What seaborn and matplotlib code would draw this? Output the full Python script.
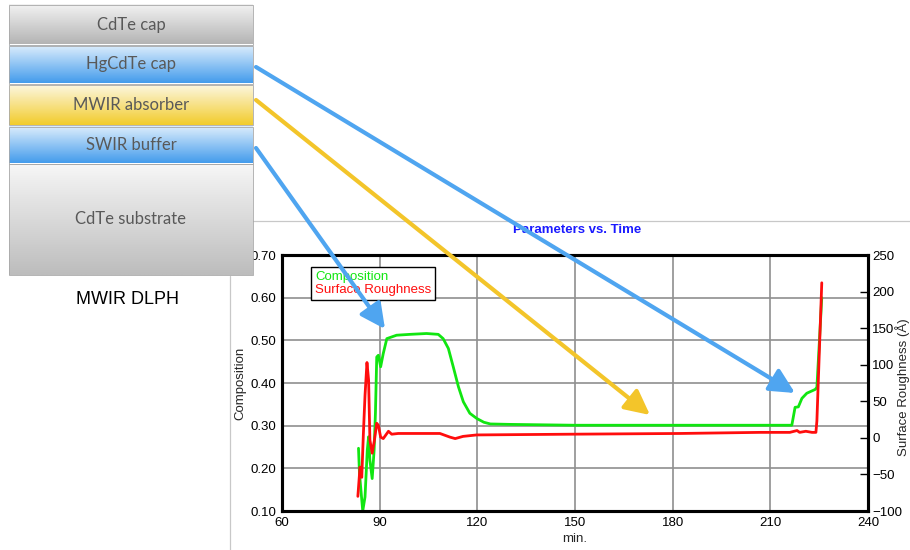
import matplotlib
matplotlib.use("Agg")
import numpy as np
import pandas as pd
import seaborn as sns
import matplotlib.pyplot as plt
from matplotlib.patches import FancyArrowPatch, Rectangle
from matplotlib.colors import LinearSegmentedColormap

# ---------------------------------------------------------------- data
comp_time = [83.5, 83.8, 84.8, 85.5, 86.2, 86.6, 87.0, 87.7, 88.3, 88.7, 89.1,
             89.6, 90.3, 91.1, 92.2, 93.7, 95.2, 99.3, 104.4, 108.0, 109.5,
             111.1, 112.6, 114.2, 115.7, 117.7, 119.8, 122.0, 124.0, 130.0,
             150.0, 180.0, 200.0, 216.6, 217.6, 218.6, 219.7, 221.2, 223.8,
             224.3, 225.8]
composition = [0.247, 0.188, 0.100, 0.133, 0.243, 0.274, 0.219, 0.176, 0.243,
               0.330, 0.461, 0.465, 0.438, 0.469, 0.504, 0.508, 0.512, 0.514,
               0.516, 0.514, 0.504, 0.481, 0.438, 0.391, 0.356, 0.329, 0.317,
               0.308, 0.304, 0.303, 0.301, 0.301, 0.301, 0.301, 0.343, 0.344,
               0.364, 0.376, 0.385, 0.390, 0.600]

rough_time = [83.3, 83.96, 84.5, 85.0, 85.5, 86.1, 86.6, 87.0, 87.7, 88.4,
              89.1, 89.6, 90.3, 91.1, 92.7, 93.7, 95.7, 102.4, 108.5, 111.6,
              113.2, 115.6, 119.8, 148.5, 182.3, 206.8, 216.0, 218.2, 219.0,
              220.9, 222.8, 224.0, 224.3, 225.8]
roughness = [-80, -40, -54, 6, 58, 103, 79, -3, -21, -3, 20, 17, 1, -1, 9, 5,
             6, 6, 6, 1, -1, 2, 4, 5, 6, 7.5, 7.5, 10, 7.5, 9, 7.5, 7.5, 23, 212]

x_ticks = [60, 90, 120, 150, 180, 210, 240]
comp_ticks = [0.10, 0.20, 0.30, 0.40, 0.50, 0.60, 0.70]
rough_ticks = [-100, -50, 0, 50, 100, 150, 200, 250]

layer_names = ["CdTe cap", "HgCdTe cap", "MWIR absorber", "SWIR buffer",
               "CdTe substrate"]
stack_name = "MWIR DLPH"

comp_df = pd.DataFrame({"min.": comp_time, "Composition": composition})
rough_df = pd.DataFrame({"min.": rough_time, "Surface Roughness": roughness})

# ---------------------------------------------------------------- figure
W, H = 910, 550
sns.set_theme(style="white")
plt.rcParams["font.family"] = ["Liberation Sans", "DejaVu Sans"]

fig = plt.figure(figsize=(W / 100, H / 100), dpi=100)
fig.patch.set_facecolor("white")


def fx(px):
    return px / W


def fy(py):
    return 1 - py / H


# main chart axes (pixel box: x 282..868, y 255..511)
ax = fig.add_axes([fx(282), fy(511), (868 - 282) / W, (511 - 255) / H])
ax2 = ax.twinx()

sns.lineplot(data=comp_df, x="min.", y="Composition", ax=ax,
             color="#11e611", lw=2.0, sort=False)
sns.lineplot(data=rough_df, x="min.", y="Surface Roughness", ax=ax2,
             color="#ff0d0d", lw=2.0, sort=False)

ax.set_xlim(60, 240)
ax.set_ylim(0.10, 0.70)
ax2.set_ylim(-100, 250)
ax.set_xticks(x_ticks)
ax.set_yticks(comp_ticks)
ax.set_yticklabels([f"{v:.2f}" for v in comp_ticks])
ax2.set_yticks(rough_ticks)
ax.set_xlabel("")
ax.set_ylabel("")
ax2.set_ylabel("")

ax.grid(True, color="#8f8f8f", lw=1.2)
ax2.grid(False)
ax.tick_params(axis="both", length=0, pad=4, labelsize=9.5, colors="black")
ax2.tick_params(axis="y", direction="in", length=6, width=1, pad=3,
                labelsize=9.5, colors="black")
for sp in list(ax.spines.values()) + list(ax2.spines.values()):
    sp.set_color("black")
    sp.set_linewidth(2.2)

fig.text(fx(577), fy(230), "Parameters vs. Time", color="#1a1aff",
         weight="bold", ha="center", va="center", size=9.5)
fig.text(fx(575), fy(539), "min.", ha="center", va="center", size=9.5)
fig.text(fx(240), fy(383), "Composition", rotation=90, ha="center",
         va="center", size=9.5)
fig.text(fx(895), fy(318), "Surface Roughness (Å)", rotation=90, ha="left",
         va="top", size=9.5)

# legend with coloured labels and no handles
leg = ax2.legend(handles=[ax.lines[0], ax2.lines[0]],
                 labels=["Composition", "Surface Roughness"],
                 loc="upper left", bbox_to_anchor=(fx(311), fy(267)),
                 bbox_transform=fig.transFigure, borderaxespad=0,
                 handlelength=0, handletextpad=0, borderpad=0.3,
                 labelspacing=0.05, fontsize=9.5, fancybox=False,
                 framealpha=1, edgecolor="black")
leg.get_frame().set_linewidth(1.0)
for txt, col in zip(leg.get_texts(), ["#11e611", "#ff0d0d"]):
    txt.set_color(col)
for h in leg.legend_handles:
    h.set_visible(False)

# ---------------------------------------------------------------- overlay
ov = fig.add_axes([0, 0, 1, 1], zorder=10)
ov.set_xlim(0, W)
ov.set_ylim(H, 0)
ov.axis("off")
ov.patch.set_alpha(0)

# frame of the chart panel
ov.plot([253, W], [221, 221], color="#c8c8c8", lw=0.9)
ov.plot([230, 230], [276, H], color="#c8c8c8", lw=0.9)

layer_boxes = [(4.7, 44.5), (45.5, 83.5), (85.0, 125.0), (126.5, 163.5),
               (164.0, 275.0)]
layer_colors = [("#f2f2f2", "#b4b4b4"), ("#dcedfc", "#449cec"),
                ("#fcf6de", "#f2cc2c"), ("#dcedfc", "#449cec"),
                ("#f6f6f6", "#bdbdbd")]
x0, x1 = 9.3, 252.5
for name, (y0, y1), (ctop, cbot) in zip(layer_names, layer_boxes,
                                        layer_colors):
    cmap = LinearSegmentedColormap.from_list("g", [ctop, cbot])
    grad = np.linspace(0, 1, 64).reshape(-1, 1)
    ov.imshow(grad, cmap=cmap, extent=[x0, x1, y1, y0], aspect="auto",
              interpolation="bilinear", zorder=1)
    ov.add_patch(Rectangle((x0, y0), x1 - x0, y1 - y0, fill=False,
                           edgecolor="#a8a8a8", lw=0.6, zorder=2))
    ov.text((x0 + x1) / 2, (y0 + y1) / 2, name, ha="center", va="center",
            color="#595959", size=12, family=["Lato", "DejaVu Sans"],
            zorder=3)
ov.text(128, 299, stack_name, ha="center", va="center", size=13,
        color="black")

arrows = [((256, 67), (795, 393), "#4fa5f0"),
          ((256, 100), (650, 415), "#f3c52a"),
          ((256, 148), (385, 329), "#4fa5f0")]
for start, tip, col in arrows:
    ov.add_patch(FancyArrowPatch(start, tip,
                                 arrowstyle="-|>,head_length=1.5,head_width=0.75",
                                 mutation_scale=10, lw=3.0, color=col,
                                 shrinkA=0, shrinkB=0, zorder=5))
ov.set_xlim(0, W)
ov.set_ylim(H, 0)

fig.savefig("out.png", dpi=100)
